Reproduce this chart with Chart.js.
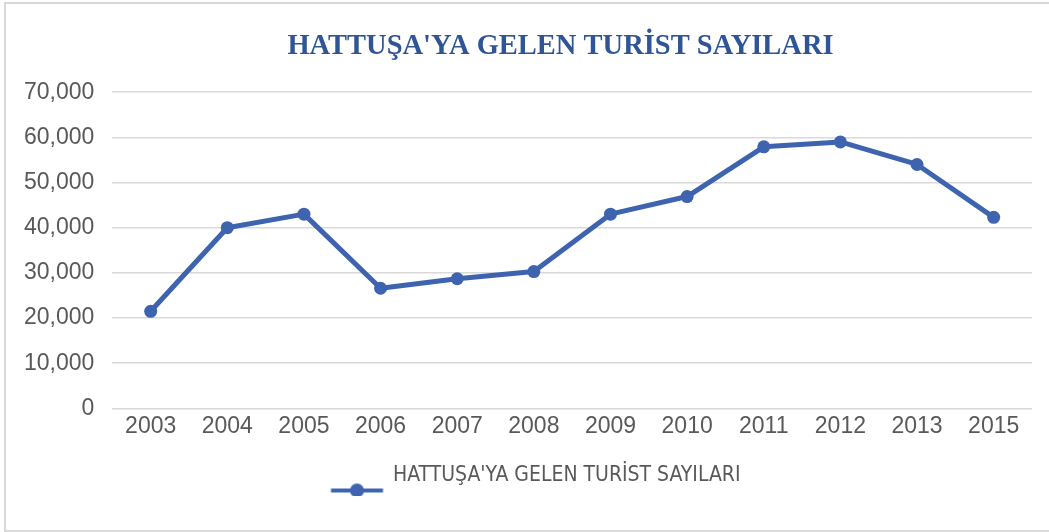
<!DOCTYPE html>
<html>
<head>
<meta charset="utf-8">
<script src="https://cdn.jsdelivr.net/npm/chart.js@4.4.1/dist/chart.umd.min.js"></script>
<style>
  html, body { margin: 0; padding: 0; background: #fff; }
  #wrap { position: relative; width: 1049px; height: 532px; overflow: hidden; }
  #frame { position: absolute; left: 4px; top: 2px; width: 1100px; height: 526px; border: 2px solid #d9d9d9; }
  #box { position: absolute; left: 0; top: 0; width: 1049px; height: 532px; }
</style>
</head>
<body>
<div id="wrap">
  <div id="frame"></div>
  <div id="box"><canvas id="chart"></canvas></div>
</div>
<script>
// Hattuşa visitor numbers per year (2014 missing in the source)
const years = ['2003', '2004', '2005', '2006', '2007', '2008', '2009', '2010', '2011', '2012', '2013', '2015'];
const visitors = [21500, 40000, 43000, 26600, 28700, 30300, 43000, 46900, 57900, 59000, 54000, 42300];
const seriesName = "HATTUŞA'YA GELEN TURİST SAYILARI";
const chartTitle = "HATTUŞA'YA GELEN TURİST SAYILARI";

const BLUE = '#3e64b0';
const GRID = '#d9d9d9';
const TEXT = '#595959';

// legend marker: line + dot, sitting left of the label and a bit below it like the original.
// The image is wider than the legend box, so the line hangs out to the left of the item.
function legendMarker() {
  const c = document.createElement('canvas');
  c.width = 120; c.height = 50;
  const g = c.getContext('2d');
  g.strokeStyle = BLUE;
  g.lineWidth = 4;
  g.beginPath();
  g.moveTo(9.5, 40);
  g.lineTo(61.5, 40);
  g.stroke();
  g.fillStyle = BLUE;
  g.beginPath();
  g.arc(35.5, 40, 7, 0, Math.PI * 2);
  g.fill();
  return c;
}
const marker = legendMarker();

// the original centres title + legend a bit right of the canvas middle:
// narrow their boxes from the left once layout is done
const shiftBlocks = {
  id: 'shiftBlocks',
  afterLayout(chart) {
    if (chart.titleBlock) chart.titleBlock.left = 89;
    if (chart.legend) chart.legend.left = 89;
  },
};

new Chart(document.getElementById('chart'), {
  type: 'line',
  data: {
    labels: years,
    datasets: [{
      label: seriesName,
      data: visitors,
      borderColor: BLUE,
      backgroundColor: BLUE,
      borderWidth: 5,
      borderJoinStyle: 'round',
      pointRadius: 6.5,
      pointBorderWidth: 0,
      pointBackgroundColor: BLUE,
      tension: 0,
    }],
  },
  plugins: [shiftBlocks],
  options: {
    responsive: true,
    maintainAspectRatio: false,
    animation: false,
    layout: { padding: { left: 6, right: 17, top: 0, bottom: 36 } },
    plugins: {
      title: {
        display: true,
        text: chartTitle,
        color: '#2f5597',
        font: { family: "'Liberation Serif', 'DejaVu Serif', serif", size: 28.5, weight: 'bold' },
        padding: { top: 30, bottom: 28 },
      },
      legend: {
        position: 'bottom',
        labels: {
          color: TEXT,
          font: { family: "'Liberation Sans Narrow', 'DejaVu Sans Condensed', sans-serif", size: 21 },
          usePointStyle: true,
          pointStyle: marker,
          pointStyleWidth: 2,
          padding: 21,
          generateLabels: (chart) => [{
            text: seriesName,
            fontColor: TEXT,
            pointStyle: marker,
            datasetIndex: 0,
            hidden: false,
          }],
        },
      },
      tooltip: { enabled: false },
    },
    scales: {
      x: {
        offset: true,
        grid: { display: false, drawTicks: false, offset: true },
        border: { display: false },
        ticks: {
          color: TEXT,
          padding: 4,
          font: { family: "'Liberation Sans', Arial, sans-serif", size: 23 },
        },
      },
      y: {
        min: 0,
        max: 70000,
        grid: { color: GRID, lineWidth: 1.5, drawTicks: false },
        border: { display: false },
        ticks: {
          stepSize: 10000,
          color: TEXT,
          padding: 18,
          font: { family: "'Liberation Sans', Arial, sans-serif", size: 23 },
          callback: (v) => v.toLocaleString('en-US'),
        },
      },
    },
  },
});
</script>
</body>
</html>
